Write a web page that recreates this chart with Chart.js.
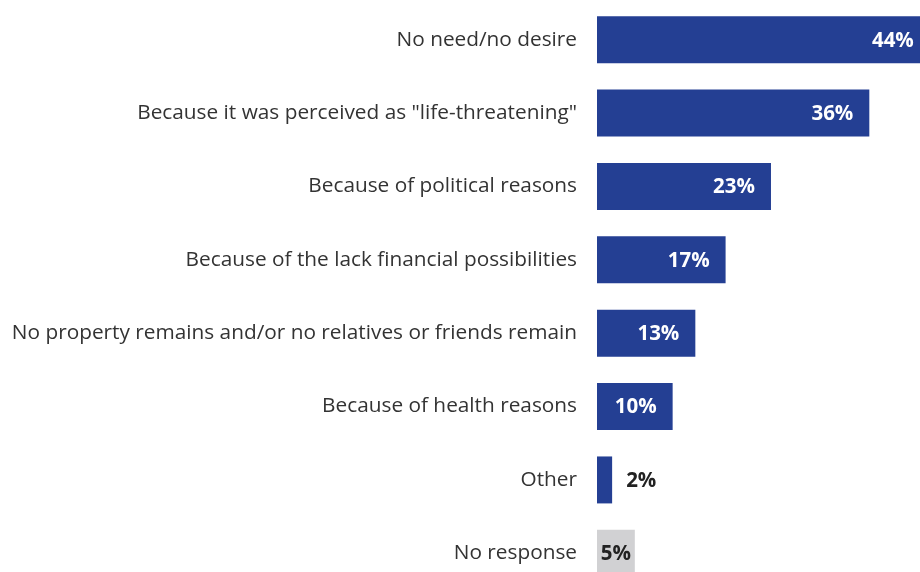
<!DOCTYPE html>
<html>
<head>
<meta charset="utf-8">
<script src="https://cdn.jsdelivr.net/npm/chart.js@4.4.1/dist/chart.umd.min.js"></script>
<style>
  html, body { margin: 0; padding: 0; background: #fff; overflow: hidden; }
  #wrap { width: 920px; height: 590px; }
</style>
</head>
<body>
<div id="wrap"><canvas id="myChart"></canvas></div>
<script>
const reasons = [
  "No need/no desire",
  'Because it was perceived as "life-threatening"',
  "Because of political reasons",
  "Because of the lack financial possibilities",
  "No property remains and/or no relatives or friends remain",
  "Because of health reasons",
  "Other",
  "No response",
];
const shares = [44, 36, 23, 17, 13, 10, 2, 5];
const barColors = ["#243f93", "#243f93", "#243f93", "#243f93", "#243f93", "#243f93", "#243f93", "#d1d1d3"];

const FONT = "'Open Sans', 'Noto Sans', sans-serif";

// percentage labels: white inside long bars, dark beside the thin ones
const valueLabels = {
  id: "valueLabels",
  afterDatasetsDraw(chart) {
    const c = chart.ctx;
    const meta = chart.getDatasetMeta(0);
    c.save();
    c.font = "bold 20.5px " + FONT;
    c.textBaseline = "middle";
    meta.data.forEach((bar, i) => {
      const txt = shares[i] + "%";
      const w = c.measureText(txt).width;
      const len = bar.x - bar.base;
      if (barColors[i] !== "#243f93") {
        c.fillStyle = "#222222";
        c.textAlign = "center";
        c.fillText(txt, (bar.x + bar.base) / 2, bar.y + 1);
      } else if (len > w + 24) {
        c.fillStyle = "#ffffff";
        c.textAlign = "right";
        c.fillText(txt, bar.x - 16, bar.y + 1);
      } else {
        c.fillStyle = "#222222";
        c.textAlign = "left";
        c.fillText(txt, bar.x + 14, bar.y + 1);
      }
    });
    c.restore();
  },
};

const ctx = document.getElementById("myChart");

new Chart(ctx, {
  type: "bar",
  data: {
    labels: reasons,
    datasets: [
      {
        data: shares,
        backgroundColor: barColors,
        borderWidth: 0,
        barPercentage: 0.64,
        categoryPercentage: 1,
      },
    ],
  },
  options: {
    indexAxis: "y",
    responsive: true,
    maintainAspectRatio: false,
    animation: false,
    layout: { padding: { top: 3, right: 0, bottom: 0, left: 0 } },
    scales: {
      x: {
        display: false,
        min: 0,
        max: 42.7,
      },
      y: {
        grid: { display: false, drawTicks: false },
        border: { display: false },
        ticks: {
          color: "#333333",
          padding: 20,
          font: { family: FONT, size: 20.8 },
        },
        afterFit(scale) {
          scale.width = 597;
          scale.paddingTop = 0;
          scale.paddingBottom = 0;
        },
      },
    },
    plugins: {
      legend: { display: false },
      tooltip: { enabled: false },
    },
  },
  plugins: [valueLabels],
});
</script>
</body>
</html>
